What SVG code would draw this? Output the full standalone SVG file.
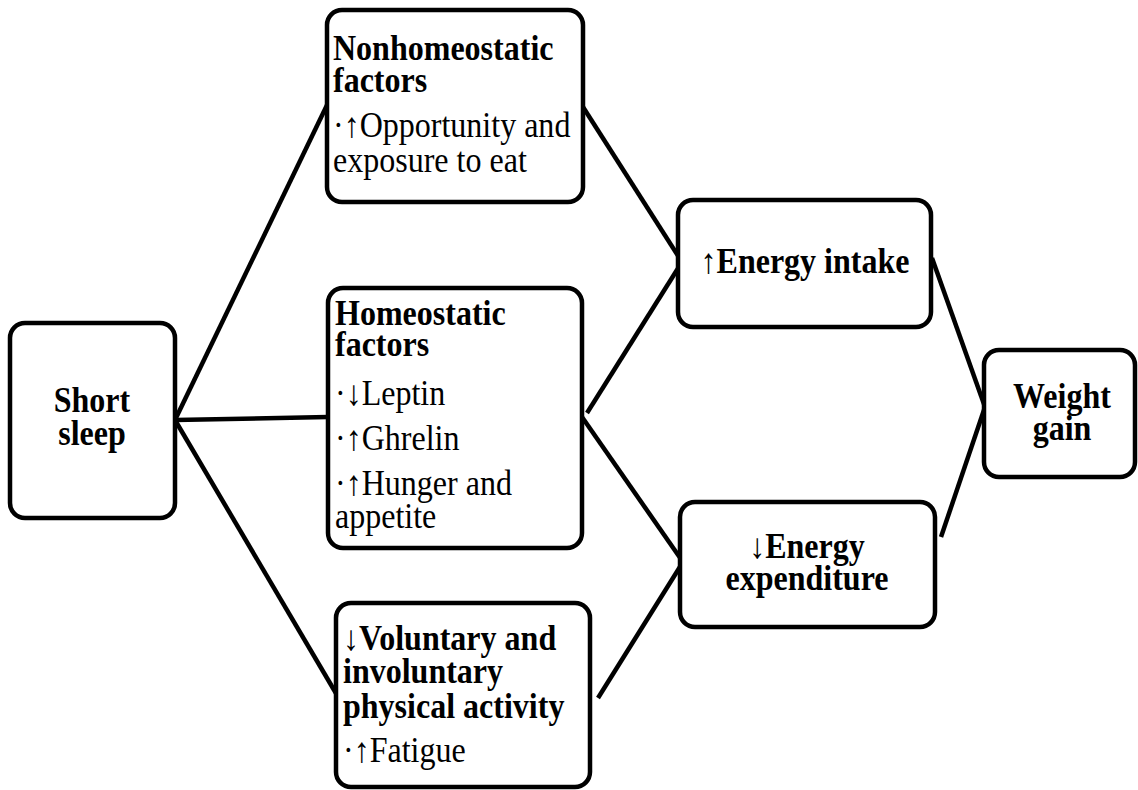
<svg xmlns="http://www.w3.org/2000/svg" width="1138" height="790" viewBox="0 0 1138 790">
<style>
.box{fill:#fff;stroke:#000;stroke-width:4.5}
.ln{fill:none;stroke:#000;stroke-width:4.5;stroke-linecap:butt}
text{font-family:"Liberation Serif","Times New Roman",serif;font-size:35px;fill:#000}
.b{font-weight:bold}
.c{text-anchor:middle}
</style>
<rect width="1138" height="790" fill="#fff"/>
<g id="connectors">
<line class="ln" x1="175" y1="420" x2="328" y2="103"/>
<line class="ln" x1="175" y1="420" x2="328" y2="417"/>
<line class="ln" x1="175" y1="420" x2="337" y2="695"/>
<line class="ln" x1="583" y1="107" x2="682" y2="262"/>
<line class="ln" x1="587" y1="413" x2="682" y2="262"/>
<path class="ln" d="M682 262 L687 257"/>
<line class="ln" x1="582" y1="417" x2="683" y2="562"/>
<line class="ln" x1="598" y1="698" x2="683" y2="562"/>
<path class="ln" d="M683 562 L688 558"/>
<line class="ln" x1="932" y1="258" x2="985" y2="407"/>
<line class="ln" x1="941" y1="537" x2="985" y2="407"/>
<path class="ln" d="M985 407 L988 398"/>
</g>
<g id="short-sleep">
<rect class="box" x="10" y="323" width="165" height="195" rx="15"/>
<text class="b c" transform="translate(92 412) scale(0.915 1)">Short</text>
<text class="b c" transform="translate(92 445) scale(0.915 1)">sleep</text>
</g>
<g id="nonhomeostatic">
<rect class="box" x="327" y="10" width="256" height="192" rx="15"/>
<text class="b" transform="translate(333 60) scale(0.915 1)">Nonhomeostatic</text>
<text class="b" transform="translate(333 92) scale(0.915 1)">factors</text>
<text transform="translate(333 137) scale(0.915 1)">·↑Opportunity and</text>
<text transform="translate(333 172) scale(0.915 1)">exposure to eat</text>
</g>
<g id="homeostatic">
<rect class="box" x="328" y="288" width="254" height="260" rx="15"/>
<text class="b" transform="translate(335 325) scale(0.915 1)">Homeostatic</text>
<text class="b" transform="translate(335 356) scale(0.915 1)">factors</text>
<text transform="translate(335 405) scale(0.915 1)">·↓Leptin</text>
<text transform="translate(335 450) scale(0.915 1)">·↑Ghrelin</text>
<text transform="translate(335 495) scale(0.915 1)">·↑Hunger and</text>
<text transform="translate(335 528) scale(0.915 1)">appetite</text>
</g>
<g id="physical-activity">
<rect class="box" x="336" y="603" width="254" height="184" rx="15"/>
<text class="b" transform="translate(343 650) scale(0.915 1)">↓Voluntary and</text>
<text class="b" transform="translate(343 683) scale(0.915 1)">involuntary</text>
<text class="b" transform="translate(343 718) scale(0.915 1)">physical activity</text>
<text transform="translate(343 762) scale(0.915 1)">·↑Fatigue</text>
</g>
<g id="energy-intake">
<rect class="box" x="678" y="200" width="253" height="127" rx="15"/>
<text class="b c" transform="translate(805 273) scale(0.915 1)">↑Energy intake</text>
</g>
<g id="energy-expenditure">
<rect class="box" x="680" y="502" width="255" height="125" rx="15"/>
<text class="b c" transform="translate(807 558) scale(0.915 1)">↓Energy</text>
<text class="b c" transform="translate(807 590) scale(0.915 1)">expenditure</text>
</g>
<g id="weight-gain">
<rect class="box" x="984" y="350" width="151" height="127" rx="15"/>
<text class="b c" transform="translate(1062 408) scale(0.915 1)">Weight</text>
<text class="b c" transform="translate(1062 440) scale(0.915 1)">gain</text>
</g>
</svg>
